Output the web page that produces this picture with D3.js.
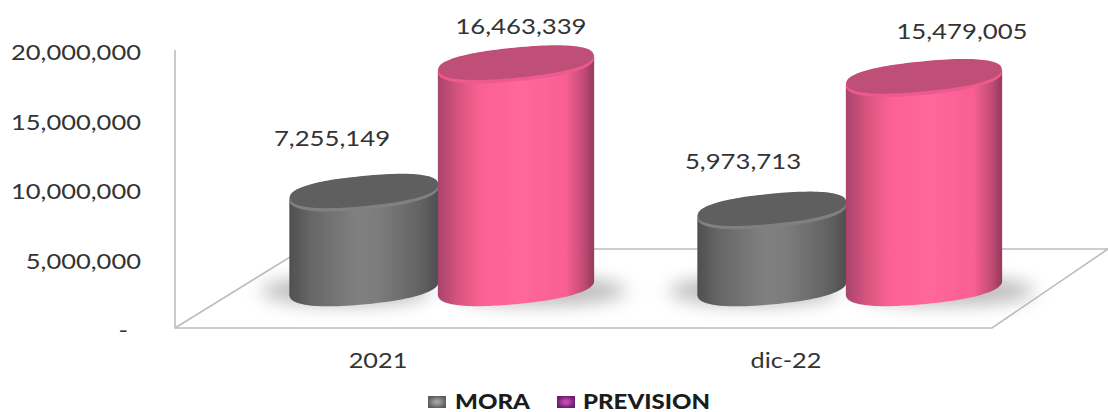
<!DOCTYPE html>
<html>
<head>
<meta charset="utf-8">
<style>
  html, body { margin: 0; padding: 0; background: #fff; }
  svg { display: block; }
  text { font-family: Lato, "Open Sans", sans-serif; fill: #333; }
</style>
<script src="https://cdn.jsdelivr.net/npm/d3@7/dist/d3.min.js"></script>
</head>
<body>
<svg id="chart" width="1108" height="412"></svg>
<script>
const categories = ["2021", "dic-22"];
const seriesNames = ["MORA", "PREVISION"];
const mora = [7255149, 5973713];
const prevision = [16463339, 15479005];
const yTicks = [0, 5000000, 10000000, 15000000, 20000000];

const svg = d3.select("#chart");
const defs = svg.append("defs");

// Value axis and the band scales that place each cylinder.
const y = d3.scaleLinear().domain([0, 20000000]).range([328, 50]);
const xGroup = d3.scaleBand().domain(categories).range([236, 1052]);
const xSeries = d3.scaleBand().domain(seriesNames).range([-152, 152]);

// Projection constants of the 3D box.
const floor = { fl: 175, fr: 992, bl: 303, br: 1108, front: 328, back: 249 };
const topLift = 27;      // tops sit above the axis reading because of the depth shift
const baseLeftY = 295;   // left edge of each cylinder's base ellipse
const tiltRad = -5.5 * Math.PI / 180;
const ry = 16.5;
const roundness = 2.35;  // superellipse exponent, gives the caps their full shoulders

const palettes = {
  MORA: { stops: [["0%", "#4f4f4f"], ["14%", "#666"], ["45%", "#808080"], ["60%", "#7c7c7c"], ["88%", "#626262"], ["100%", "#4e4e4e"]],
          rim: "#808080", cap: "#5e5e5e" },
  PREVISION: { stops: [["0%", "#a8446c"], ["14%", "#d9557f"], ["28%", "#fb6194"], ["55%", "#ff679b"], ["82%", "#f85f92"], ["93%", "#c24d76"], ["100%", "#96395c"]],
          rim: "#ec5a8e", cap: "#c04f78" }
};

seriesNames.forEach(name => {
  const g = defs.append("linearGradient").attr("id", "body-" + name);
  palettes[name].stops.forEach(s => g.append("stop").attr("offset", s[0]).attr("stop-color", s[1]));
});

defs.append("filter").attr("id", "shadowBlur")
  .attr("x", "-30%").attr("y", "-100%").attr("width", "160%").attr("height", "300%")
  .append("feGaussianBlur").attr("stdDeviation", 9);
defs.append("filter").attr("id", "soft")
  .attr("x", "-5%").attr("y", "-5%").attr("width", "110%").attr("height", "110%")
  .append("feGaussianBlur").attr("stdDeviation", 0.6);

// Box outline: wall edge, floor edges.
const edge = svg.append("g").attr("fill", "none").attr("stroke", "#bdbdbd").attr("stroke-width", 1.6);
edge.append("path").attr("d", d3.line()([
  [floor.fl, y(20000000)], [floor.fl, floor.front], [floor.fr, floor.front], [floor.br, floor.back]
]));
edge.append("path").attr("d", d3.line()([
  [floor.fl, floor.front], [floor.bl, floor.back], [floor.br, floor.back]
]));

// Flatten the two series into one list of cylinders.
const cylinders = categories.flatMap((c, i) => [
  { category: c, series: "MORA", value: mora[i] },
  { category: c, series: "PREVISION", value: prevision[i] }
]).map(d => ({
  ...d,
  cx: xGroup(d.category) + xGroup.bandwidth() / 2 + xSeries(d.series) + xSeries.bandwidth() / 2,
  rx: d.series === "MORA" ? 75 : 78.5
}));

// Point on a tilted superellipse at angle a.
function capPoint(cx, cy, rx, rY, a) {
  const c = Math.cos(a), s = Math.sin(a);
  const u = rx * Math.sign(c) * Math.pow(Math.abs(c), 2 / roundness);
  const v = rY * Math.sign(s) * Math.pow(Math.abs(s), 2 / roundness);
  return [cx + u * Math.cos(tiltRad) - v * Math.sin(tiltRad), cy + u * Math.sin(tiltRad) + v * Math.cos(tiltRad)];
}
const angles = d3.range(0, 121).map(i => i / 120 * 2 * Math.PI);
const frontAngles = d3.range(0, 61).map(i => Math.PI - i / 60 * Math.PI);
const line = d3.line();
const capPath = (cx, cy, rx, rY) => line(angles.map(a => capPoint(cx, cy, rx, rY, a))) + "Z";

// Soft floor shadows first, so the bodies cover them.
svg.append("g").selectAll("ellipse").data(cylinders).join("ellipse")
  .attr("cx", d => d.cx + (d.series === "MORA" ? -18 : 22))
  .attr("cy", baseLeftY - 4)
  .attr("rx", d => d.rx + 10)
  .attr("ry", 14)
  .attr("fill", "#8f8f8f")
  .attr("opacity", 0.62)
  .attr("filter", "url(#shadowBlur)");

const cyl = svg.append("g").attr("filter", "url(#soft)")
  .selectAll("g").data(cylinders).join("g");

cyl.each(function (d) {
  const g = d3.select(this);
  const lift = d.rx * Math.sin(-tiltRad);
  const topCy = y(d.value) - topLift - lift;
  const baseCy = baseLeftY - lift;
  const p = palettes[d.series];

  // Body: from the cap's left tip, round the front of the base, back up to the cap's right tip.
  const bodyPts = [capPoint(d.cx, topCy, d.rx, ry, Math.PI)]
    .concat(frontAngles.map(a => capPoint(d.cx, baseCy, d.rx, ry, a)))
    .concat([capPoint(d.cx, topCy, d.rx, ry, 0)]);
  g.append("path").attr("fill", `url(#body-${d.series})`).attr("d", line(bodyPts) + "Z");

  // Cap: the bright front bevel peeks out below the darker top face.
  g.append("path").attr("fill", p.rim).attr("d", capPath(d.cx, topCy, d.rx, ry));
  g.append("path").attr("fill", p.cap).attr("d", capPath(d.cx, topCy - 2, d.rx - 0.5, ry - 1.5));
});

// Stretch the text horizontally to the wide proportions of the chart's numerals.
function stretched(sel, factor) {
  sel.each(function () {
    const len = this.getComputedTextLength();
    d3.select(this).attr("textLength", len * factor).attr("lengthAdjust", "spacingAndGlyphs");
  });
}

const fmt = d3.format(",");

// Value axis labels; zero reads as a dash.
svg.append("g").selectAll("text").data(yTicks).join("text")
  .attr("x", d => d === 0 ? 128 : 141)
  .attr("y", d => y(d) + 10)
  .attr("text-anchor", "end")
  .attr("font-size", 22)
  .text(d => d === 0 ? "-" : fmt(d))
  .call(stretched, 1.16);

// Category labels sit under the front floor edge.
svg.append("g").selectAll("text").data(categories).join("text")
  .attr("x", d => xGroup(d) + xGroup.bandwidth() / 2 - 62)
  .attr("y", 368)
  .attr("text-anchor", "middle")
  .attr("font-size", 22)
  .text(d => d)
  .call(stretched, 1.15);

// Value labels, nudged off their cylinders the way the chart places them.
const labelNudge = { "2021": { MORA: [-32, -30], PREVISION: [5, -14] }, "dic-22": { MORA: [-29, -25], PREVISION: [38, -23] } };
svg.append("g").selectAll("text").data(cylinders).join("text")
  .attr("x", d => d.cx + labelNudge[d.category][d.series][0])
  .attr("y", d => y(d.value) - topLift - 24 + labelNudge[d.category][d.series][1])
  .attr("text-anchor", "middle")
  .attr("font-size", 22)
  .text(d => fmt(d.value))
  .call(stretched, 1.17);

// Legend.
const legendGrad = { MORA: ["#a0a0a0", "#5f5f5f"], PREVISION: ["#c046b8", "#6f1f6c"] };
seriesNames.forEach(name => {
  const g = defs.append("radialGradient").attr("id", "swatch-" + name);
  g.append("stop").attr("offset", "25%").attr("stop-color", legendGrad[name][0]);
  g.append("stop").attr("offset", "100%").attr("stop-color", legendGrad[name][1]);
});
const legendX = { MORA: [428, 455], PREVISION: [557, 583] };
const legend = svg.append("g").selectAll("g").data(seriesNames).join("g");
legend.append("rect")
  .attr("x", d => legendX[d][0]).attr("y", 396)
  .attr("width", 18).attr("height", 12)
  .attr("filter", "url(#soft)")
  .attr("fill", d => `url(#swatch-${d})`);
legend.append("text")
  .attr("x", d => legendX[d][1]).attr("y", 409)
  .attr("font-size", 20).attr("font-weight", 900)
  .style("fill", "#1c1c1c")
  .text(d => d)
  .each(function (d) {
    d3.select(this).attr("textLength", d === "MORA" ? 75 : 127).attr("lengthAdjust", "spacingAndGlyphs");
  });
</script>
</body>
</html>
